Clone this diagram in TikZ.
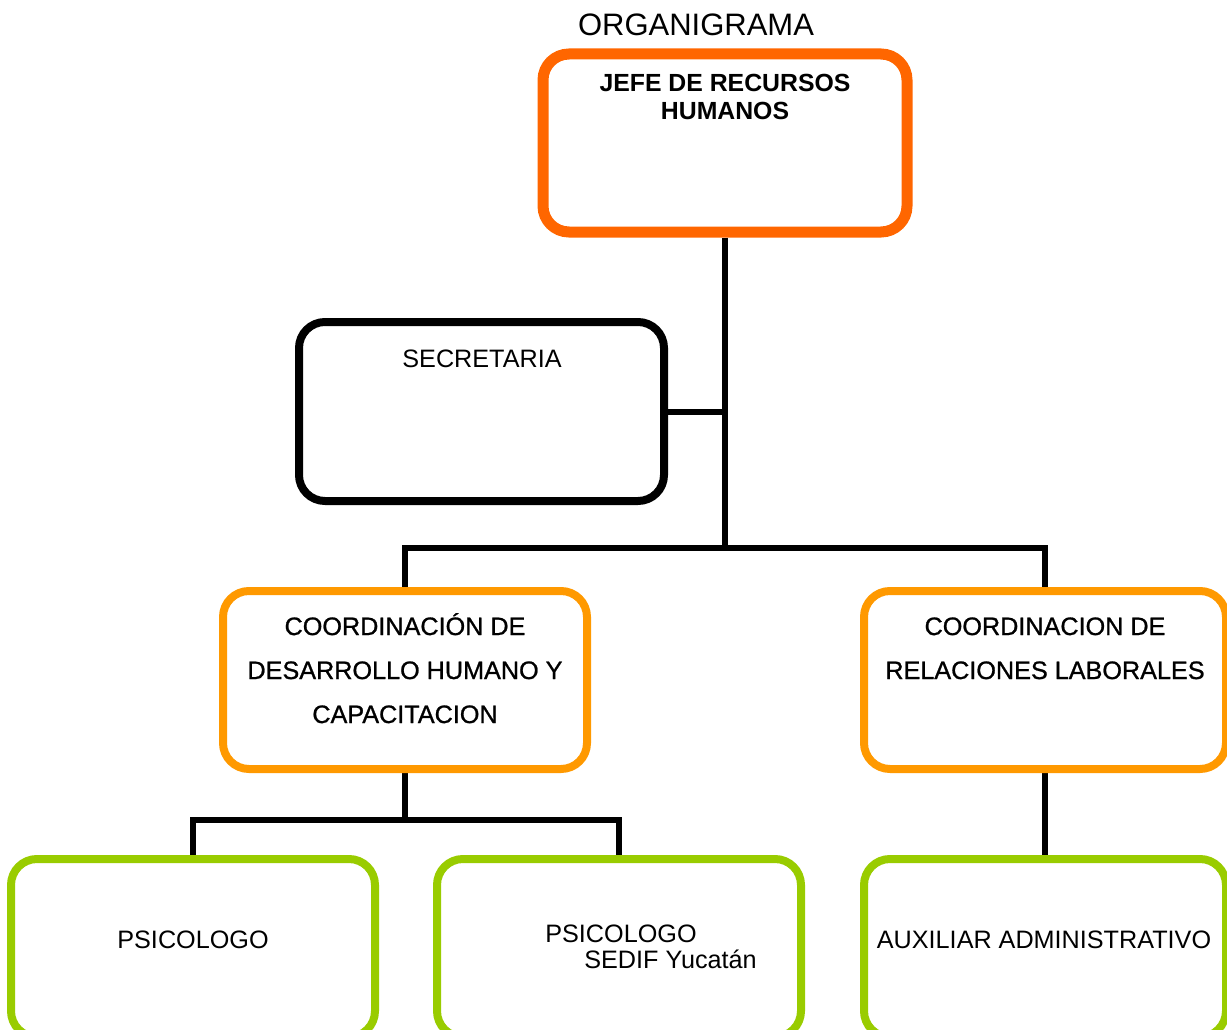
\documentclass[tikz,border=0pt]{standalone}
\usepackage{fontspec}
\setmainfont{Liberation Sans}
\newfontfamily\semibold[FakeBold=0.9]{Liberation Sans}
\usetikzlibrary{backgrounds}
\definecolor{headorange}{HTML}{FF6600}
\definecolor{coordorange}{HTML}{FF9900}
\definecolor{staffgreen}{HTML}{99CC00}
\begin{document}
\begin{tikzpicture}[x=1pt,y=-1pt,
  box/.style={draw, rounded corners=26pt, minimum width=364pt, minimum height=178pt, inner sep=0pt, fill=white},
  headbox/.style={box, draw=headorange, line width=11pt},
  secbox/.style={box, draw=black, line width=8pt},
  coordbox/.style={box, draw=coordorange, line width=8pt},
  staffbox/.style={box, draw=staffgreen, line width=8pt},
  link/.style={draw=black, line width=6pt, line join=miter},
  lbl/.style={inner sep=0pt, anchor=base, font=\fontsize{25.2}{28}\selectfont},
  boldlbl/.style={lbl, align=center, font=\fontsize{24.8}{28}\selectfont\bfseries},
  coordlbl/.style={lbl, align=center, font=\fontsize{25.2}{44}\selectfont\semibold}
]
\useasboundingbox (0,0) rectangle (1227,1030);
\clip (0,0) rectangle (1227,1030);

% boxes
\node[headbox] (jefe) at (725,143) {};
\node[secbox, minimum width=365pt, minimum height=179pt] (sec) at (481.5,411.5) {};
\node[coordbox] (coordL) at (405,680) {};
\node[coordbox, minimum width=362pt] (coordR) at (1045,680) {};
\node[staffbox] (ps1) at (193,948) {};
\node[staffbox] (ps2) at (619,948) {};
\node[staffbox, minimum width=362pt] (aux) at (1045,948) {};

% connectors
\coordinate (bus) at (725,548);
\coordinate (bus2) at (405,820);
\begin{scope}[on background layer]
  \draw[link] (jefe.south) -- (bus);
  \draw[link] (sec.east) -- (sec.east -| bus);
  \draw[link] (coordL.north) |- (bus) -| (coordR.north);
  \draw[link] (coordL.south) -- (bus2);
  \draw[link] (ps1.north) |- (bus2) -| (ps2.north);
  \draw[link] (coordR.south) -- (aux.north);
\end{scope}

% texts (multi-line labels sit on the baseline of their last line)
\node[lbl, font=\fontsize{31}{36}\selectfont] (title) at (696,36) {ORGANIGRAMA};
\node[boldlbl] (jefet) at (725,120) {JEFE DE RECURSOS\\HUMANOS};
\node[lbl] (sect) at (482,367) {SECRETARIA};
\node[coordlbl] (coordLt) at (405,723) {COORDINACIÓN DE\\DESARROLLO HUMANO Y\\CAPACITACION};
\node[coordlbl] (coordRt) at (1045,679) {COORDINACION DE\\RELACIONES LABORALES};
\node[lbl] (ps1t) at (193,948) {PSICOLOGO};
\node[lbl, align=left, font=\fontsize{25.2}{26}\selectfont] (ps2t) at (651,968) {PSICOLOGO\\\hspace*{39pt}SEDIF Yucatán};
\node[lbl] (auxt) at (1044,948) {AUXILIAR ADMINISTRATIVO};
\end{tikzpicture}
\end{document}
